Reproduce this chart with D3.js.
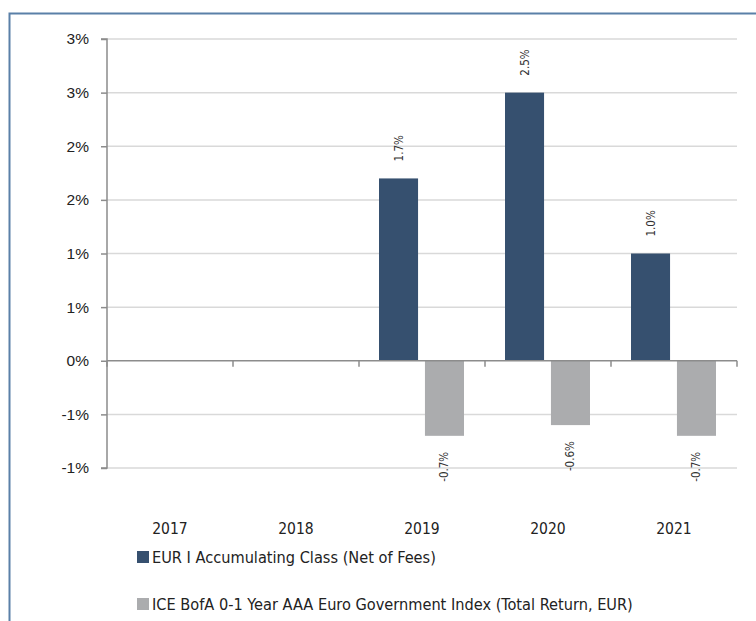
<!DOCTYPE html>
<html><head><meta charset="utf-8">
<script src="https://cdn.jsdelivr.net/npm/d3@7"></script>
<style>
body{margin:0;background:#fff;}
svg{display:block;font-family:"DejaVu Sans Condensed",sans-serif;}
</style></head>
<body><svg id="c" width="756" height="621"></svg>
<script>
const categories = ["2017","2018","2019","2020","2021"];
const fundValues = [null,null,1.7,2.5,1.0];
const indexValues = [null,null,-0.7,-0.6,-0.7];
const seriesNames = ["EUR I Accumulating Class (Net of Fees)","ICE BofA 0-1 Year AAA Euro Government Index (Total Return, EUR)"];
const yTickValues = [-1,-0.5,0,0.5,1,1.5,2,2.5,3];
const yTickLabels = ["-1%","-1%","0%","1%","1%","2%","2%","3%","3%"];
const colors = ["#36506f","#abacae"];

const svg = d3.select("#c");
// frame
svg.append("path").attr("d","M9.5,700 V13.5 H760").attr("fill","none").attr("stroke","#5a80a8").attr("stroke-width",2);

const x0 = 107, x1 = 737;
const y = d3.scaleLinear().domain([-1,3]).range([468,39]);
const x = d3.scaleBand().domain(categories).range([x0,x1]);

// gridlines
svg.append("g").selectAll("line").data(yTickValues.filter(v=>v!==0)).join("line")
  .attr("x1",x0).attr("x2",x1).attr("y1",d=>y(d)).attr("y2",d=>y(d))
  .attr("stroke","#d9d9d9").attr("stroke-width",1.5);

// y axis
const yAxis = d3.axisLeft(y).tickValues(yTickValues).tickFormat((d,i)=>yTickLabels[i]).tickSize(6).tickPadding(12);
const ga = svg.append("g").attr("transform",`translate(${x0},0)`).call(yAxis);
ga.select(".domain").attr("stroke","#8c8c8c").attr("stroke-width",1.5).attr("d",`M-6,${y(3)}H0V${y(-1)}H-6`);
ga.selectAll(".tick line").attr("stroke","#8c8c8c").attr("stroke-width",1.5);
ga.selectAll(".tick text").attr("font-size",15.5).attr("fill","#222").attr("font-family","inherit");

const x2 = d3.scaleBand().domain([0,1]).range([20,105]).paddingInner(0.15);

// bars
const series = [fundValues,indexValues];
series.forEach((vals,si)=>{
  const g = svg.append("g");
  const data = categories.map((c,i)=>({c,v:vals[i]})).filter(d=>d.v!==null);
  g.selectAll("rect").data(data).join("rect")
    .attr("x",d=>x(d.c)+x2(si)).attr("width",x2.bandwidth())
    .attr("y",d=>y(Math.max(0,d.v))).attr("height",d=>Math.abs(y(d.v)-y(0)))
    .attr("fill",colors[si]);
  g.selectAll("text").data(data).join("text")
    .attr("transform",d=>{
      const cx = x(d.c)+x2(si)+x2.bandwidth()/2 + 4;
      const cy = d.v>=0 ? y(d.v)-17 : y(d.v)+16;
      return `translate(${cx},${cy}) rotate(-90)`;
    })
    .attr("text-anchor",d=>d.v>=0?"start":"end")
    .attr("font-size",11.5).attr("fill","#333")
    .text(d=>d.v.toFixed(1)+"%");
});

// x axis (zero line)
const xAxis = d3.axisBottom(x).tickSize(0).tickFormat("");
const gx = svg.append("g").attr("transform",`translate(0,${y(0)})`).call(xAxis);
gx.select(".domain").attr("stroke","#8c8c8c").attr("stroke-width",1.5).attr("d",`M${x0},0H${x1}`);
gx.selectAll(".bt").data(d3.range(categories.length+1)).join("line")
  .attr("x1",i=>x0+i*x.step()).attr("x2",i=>x0+i*x.step()).attr("y1",0).attr("y2",6)
  .attr("stroke","#8c8c8c").attr("stroke-width",1.5);

// category labels
svg.append("g").selectAll("text").data(categories).join("text")
  .attr("x",d=>x(d)+x.bandwidth()/2).attr("y",534).attr("text-anchor","middle")
  .attr("font-size",15.5).attr("fill","#222").text(d=>d);

// legend
const lg = svg.append("g");
seriesNames.forEach((n,i)=>{
  const yy = 557 + i*47;
  lg.append("rect").attr("x",137).attr("y",yy-6).attr("width",12).attr("height",12).attr("fill",colors[i]);
  lg.append("text").attr("x",152).attr("y",yy+6).attr("font-size",16.2).attr("fill","#222").text(n);
});
</script></body></html>
